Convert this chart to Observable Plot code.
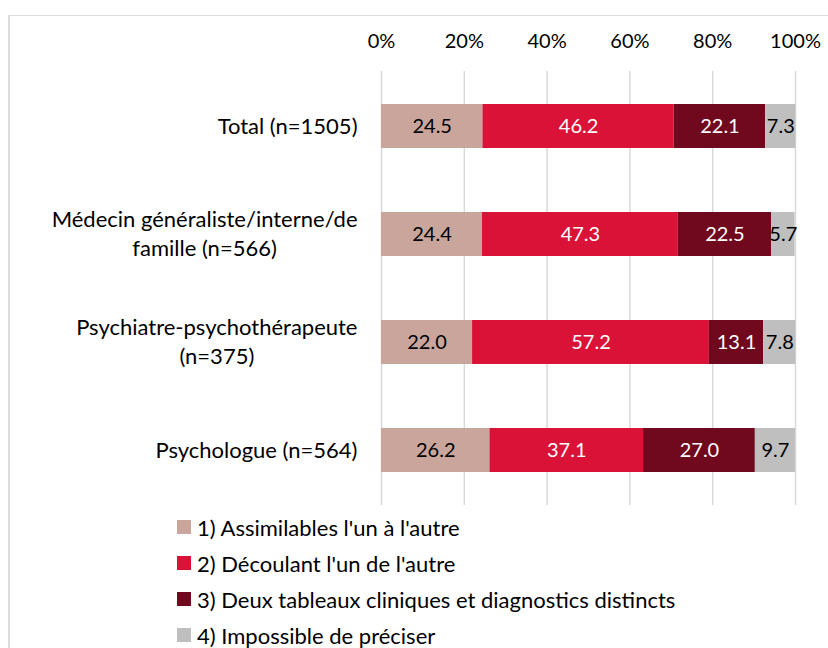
<!DOCTYPE html>
<html><head><meta charset="utf-8">
<script src="https://cdn.jsdelivr.net/npm/d3@7"></script>
<script src="https://cdn.jsdelivr.net/npm/@observablehq/plot@0.6"></script>
<style>
html,body{margin:0;padding:0;background:#fff;overflow:hidden;width:828px;height:648px;}
#frame{position:absolute;left:8px;top:15px;width:1000px;height:1000px;border-left:2px solid #dcdcdc;border-top:1px solid #dcdcdc;box-sizing:border-box;}
#chart{position:absolute;left:0;top:0;}
#legend{position:absolute;left:177px;top:509px;font-family:Lato,sans-serif;font-size:22px;color:#000;}
.row{height:36px;display:flex;align-items:center;white-space:nowrap;}
.sw{width:14px;height:14px;margin-right:6px;flex:none;}
</style></head><body>
<div id="frame"></div>
<div id="chart"></div>
<div id="legend"></div>
<script>
const categories = [
  "Total (n=1505)",
  "Médecin généraliste/interne/de\nfamille (n=566)",
  "Psychiatre-psychothérapeute\n(n=375)",
  "Psychologue (n=564)"
];
const series = [
  "1) Assimilables l'un à l'autre",
  "2) Découlant l'un de l'autre",
  "3) Deux tableaux cliniques et diagnostics distincts",
  "4) Impossible de préciser"
];
const assimilables = [24.5, 24.4, 22.0, 26.2];
const decoulant = [46.2, 47.3, 57.2, 37.1];
const distincts = [22.1, 22.5, 13.1, 27.0];
const impossible = [7.3, 5.7, 7.8, 9.7];
const colors = ["#c9a59c", "#da1238", "#70081e", "#bfbfbf"];
const labelColors = ["#000000", "#ffffff", "#ffffff", "#000000"];
const tickValues = [0, 20, 40, 60, 80, 100];
const tickLabels = ["0%", "20%", "40%", "60%", "80%", "100%"];

const seriesValues = [assimilables, decoulant, distincts, impossible];
const data = [];
series.forEach((s, si) => {
  categories.forEach((c, ci) => {
    data.push({cat: c, series: s, si, value: seriesValues[si][ci]});
  });
});

const chart = Plot.plot({
  width: 828,
  height: 505,
  marginLeft: 381,
  marginRight: 33,
  marginTop: 71,
  marginBottom: 0,
  style: {fontFamily: "Lato, sans-serif", fontSize: "20px", color: "#000", background: "transparent"},
  x: {domain: [0, 100], label: null},
  y: {domain: categories, axis: null, paddingInner: 0.594, paddingOuter: 0.297},
  color: {domain: series, range: colors},
  marks: [
    Plot.gridX(tickValues, {stroke: "#d9d9d9", strokeOpacity: 1, strokeWidth: 1.5}),
    Plot.axisX(tickValues, {anchor: "top", tickSize: 0, tickPadding: 24, tickFormat: (d) => tickLabels[tickValues.indexOf(d)], fontSize: 20, label: null}),
    Plot.barX(data, Plot.stackX({x: "value", y: "cat", fill: "series"})),
    Plot.text(data, Plot.stackX({x: "value", y: "cat", z: "series", text: d => d.value.toFixed(1), fill: d => labelColors[d.si], fontSize: 20})),
    Plot.text(categories, {y: d => d, text: d => d, frameAnchor: "left", textAnchor: "end", dx: -24, dy: -2, lineAnchor: "middle", lineHeight: 1.3, fontSize: 22, fill: "#000"})
  ]
});
document.getElementById("chart").appendChild(chart);

// center multi-line category labels around the centre of their longest line
chart.querySelectorAll("text").forEach(t => {
  const spans = t.querySelectorAll("tspan");
  if (spans.length < 2) return;
  let W = 0;
  spans.forEach(s => { W = Math.max(W, s.getComputedTextLength()); });
  const tx = parseFloat(t.getAttribute("x")) || 0;
  t.setAttribute("text-anchor", "middle");
  t.style.textAnchor = "middle";
  spans.forEach(s => {
    const sx = s.hasAttribute("x") ? parseFloat(s.getAttribute("x")) : tx;
    s.setAttribute("x", sx - W / 2);
  });
});

const legend = document.getElementById("legend");
series.forEach((s, i) => {
  const row = document.createElement("div");
  row.className = "row";
  const sw = document.createElement("span");
  sw.className = "sw";
  sw.style.background = colors[i];
  const lab = document.createElement("span");
  lab.textContent = s;
  row.appendChild(sw);
  row.appendChild(lab);
  legend.appendChild(row);
});
</script>
</body></html>
